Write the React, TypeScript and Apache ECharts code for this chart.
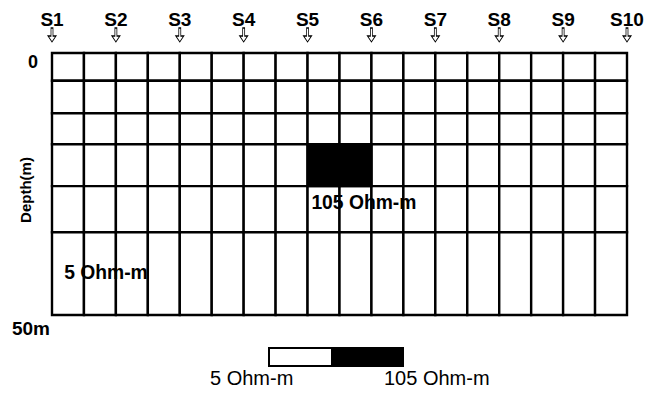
import React, { useEffect, useRef } from 'react';
import * as echarts from 'echarts';

// Survey stations along the profile (two model columns per station spacing)
const stations = ['S1', 'S2', 'S3', 'S4', 'S5', 'S6', 'S7', 'S8', 'S9', 'S10'];
const columnCount = 18;
// Layer boundaries of the resistivity model, in metres below surface
const layerTops = [0, 5.3, 11.5, 17.4, 25.4, 34.2, 50];
const backgroundResistivity = 5;
const anomalyResistivity = 105;
const anomalyColumns = [8, 9];
const anomalyLayer = 3;
// Depth axis tick labels
const depthTicks = ['0', '50m'];
// In-section annotations: [column position, depth, resistivity]
const annotations = [
  [0.38, 41.8, 5],
  [8.12, 28.6, 105],
];
const legendValues = [5, 105];

const FONT = "'Liberation Sans', Arial, Helvetica, sans-serif";

function buildCells() {
  const cells: number[][] = [];
  for (let c = 0; c < columnCount; c++) {
    for (let l = 0; l < layerTops.length - 1; l++) {
      const isAnomaly = anomalyColumns.includes(c) && l === anomalyLayer;
      cells.push([c, c + 1, layerTops[l], layerTops[l + 1], isAnomaly ? anomalyResistivity : backgroundResistivity]);
    }
  }
  // draw the conductive background first so the anomaly sits on top
  cells.sort((a, b) => a[4] - b[4]);
  return cells;
}

export default function App() {
  const ref = useRef<HTMLDivElement>(null);

  useEffect(() => {
    if (!ref.current) return;
    const chart = echarts.init(ref.current, undefined, { renderer: 'svg' });
    const colorOf = (v: number) => (v >= legendValues[1] ? '#000000' : '#ffffff');

    const depthAxisBase = {
      type: 'value',
      inverse: true,
      min: 0,
      max: 50,
      interval: 50,
      position: 'left',
      axisLine: { show: false },
      axisTick: { show: false },
      splitLine: { show: false },
    };

    chart.setOption({
      animation: false,
      backgroundColor: '#ffffff',
      grid: { left: 52, right: 27, top: 53, bottom: 78, outerBoundsMode: 'none', containLabel: false },
      xAxis: {
        type: 'value',
        position: 'top',
        min: 0,
        max: columnCount,
        interval: 2,
        axisLine: { show: false },
        axisTick: { show: false },
        splitLine: { show: false },
        axisLabel: {
          margin: 24,
          fontSize: 19,
          fontWeight: 'bold',
          fontFamily: FONT,
          color: '#000',
          formatter: (v: number) => stations[Math.round(v / 2)] ?? '',
        },
      },
      yAxis: [
        {
          ...depthAxisBase,
          name: 'Depth(m)',
          nameLocation: 'middle',
          nameRotate: 90,
          nameGap: 19,
          nameMoveOverlap: false,
          nameTextStyle: {
            fontSize: 15,
            fontWeight: 'bold',
            fontFamily: FONT,
            color: '#000',
            padding: [0, 12, 0, 0],
          },
          axisLabel: {
            showMaxLabel: false,
            margin: 14,
            fontSize: 18,
            lineHeight: 18,
            verticalAlign: 'top',
            fontWeight: 'bold',
            fontFamily: FONT,
            color: '#000',
            formatter: (v: number) => (v === 0 ? depthTicks[0] : ''),
          },
        },
        {
          ...depthAxisBase,
          axisLabel: {
            showMinLabel: false,
            margin: 2,
            fontSize: 19,
            lineHeight: 27,
            verticalAlign: 'top',
            fontWeight: 'bold',
            fontFamily: FONT,
            color: '#000',
            formatter: (v: number) => (v === 50 ? depthTicks[1] : ''),
          },
        },
      ],
      series: [
        {
          type: 'custom',
          clip: false,
          encode: { x: [0, 1], y: [2, 3] },
          data: buildCells(),
          renderItem: (_params: any, api: any) => {
            const p0 = api.coord([api.value(0), api.value(2)]);
            const p1 = api.coord([api.value(1), api.value(3)]);
            return {
              type: 'rect',
              shape: { x: p0[0], y: p0[1], width: p1[0] - p0[0], height: p1[1] - p0[1] },
              style: { fill: colorOf(api.value(4)), stroke: '#000', lineWidth: 2.4 },
            };
          },
        },
        {
          type: 'scatter',
          clip: false,
          z: 5,
          data: stations.map((_, i) => [i * 2, 0]),
          symbol: 'path://M3,0 L5,0 L5,8 L8,8 L4,14 L0,8 L3,8 Z',
          symbolSize: [8, 14],
          symbolOffset: [0, -18],
          itemStyle: { color: '#ffffff', borderColor: '#000', borderWidth: 1, opacity: 1 },
          silent: true,
        },
        {
          type: 'scatter',
          clip: false,
          z: 6,
          data: annotations,
          symbolSize: 0,
          itemStyle: { opacity: 1 },
          label: {
            show: true,
            position: 'right',
            distance: 0,
            fontSize: 19.3,
            fontWeight: 'bold',
            fontFamily: FONT,
            color: '#000',
            opacity: 1,
            formatter: (p: any) => `${p.value[2]} Ohm-m`,
          },
          silent: true,
        },
      ],
      graphic: [
        {
          type: 'rect',
          shape: { x: 269, y: 348, width: 134, height: 18 },
          style: { fill: colorOf(legendValues[0]), stroke: '#000', lineWidth: 2 },
        },
        {
          type: 'rect',
          shape: { x: 332, y: 348, width: 71, height: 18 },
          style: { fill: colorOf(legendValues[1]), stroke: '#000', lineWidth: 2 },
        },
        {
          type: 'text',
          x: 210,
          y: 378,
          style: {
            text: `${legendValues[0]} Ohm-m`,
            fontSize: 20,
            fontFamily: FONT,
            fill: '#000',
            verticalAlign: 'middle',
          },
        },
        {
          type: 'text',
          x: 384,
          y: 378,
          style: {
            text: `${legendValues[1]} Ohm-m`,
            fontSize: 20,
            fontFamily: FONT,
            fill: '#000',
            verticalAlign: 'middle',
          },
        },
      ],
    });

    return () => chart.dispose();
  }, []);

  return <div ref={ref} style={{ width: 654, height: 393, position: 'absolute', left: 0, top: 0 }} />;
}
